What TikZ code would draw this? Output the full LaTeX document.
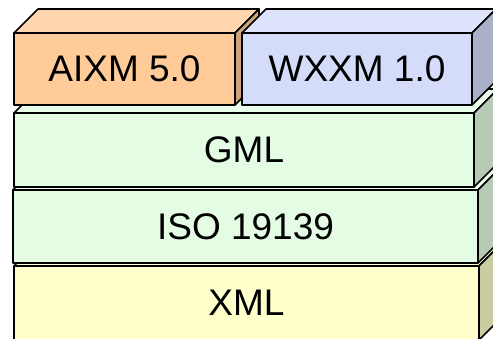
\documentclass[tikz,border=0pt]{standalone}
\usepackage{fontspec}
\setmainfont{Liberation Sans}
\usepackage{tikz}

\definecolor{aixmcol}{HTML}{FFCC99}
\definecolor{wxxmcol}{HTML}{D5DCFA}
\definecolor{gmlcol}{HTML}{E3FCE3}
\definecolor{xmlcol}{HTML}{FFFFCC}

\tikzset{
  slab edge/.style={draw=black, line width=1.6pt, line join=round},
  slab label/.style={font=\fontsize{37}{40}\selectfont, text=black, inner sep=0pt},
}

% one slab of the stack: name, left, top, right, bottom, colour, text
\newcommand{\slab}[7]{%
  \filldraw[slab edge, fill=#6!80!white] (#2,#3) -- ++(24,-24) -- ++({#4-#2},0) -- (#4,#3) -- cycle;
  \filldraw[slab edge, fill=#6!80!black] (#4,#3) -- ++(24,-24) -- ++(0,{#5-#3}) -- (#4,#5) -- cycle;
  \filldraw[slab edge, fill=#6] (#2,#3) rectangle (#4,#5);
  \node[slab label] (#1) at ({(#2+#4)/2},{(#3+#5)/2}) {#7};
}

\begin{document}
\begin{tikzpicture}[x=1pt,y=-1pt]
    \useasboundingbox (0,0) rectangle (493,339);
    \clip (0,0) rectangle (493,339);
    \slab{xml}{14}{266}{479}{340}{xmlcol}{XML}
    \slab{iso}{13}{190}{478}{263}{gmlcol}{ISO 19139}
    \slab{gml}{14}{113}{474}{187}{gmlcol}{GML}
    \slab{aixm}{14}{33}{235}{105}{aixmcol}{AIXM 5.0}
    \slab{wxxm}{242}{33}{472}{105}{wxxmcol}{WXXM 1.0}
  \end{tikzpicture}
\end{document}
